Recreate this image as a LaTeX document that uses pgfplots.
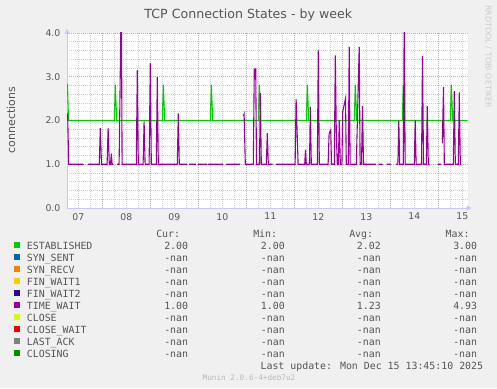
\documentclass[border=0pt]{standalone}
\usepackage{pgfplots}
\pgfplotsset{compat=1.18}
\usepackage{fontspec}
\setmainfont{DejaVu Sans}
\newfontfamily\monofont{DejaVu Sans Mono}
\usetikzlibrary{arrows.meta}
\definecolor{bgcol}{HTML}{F0F0F0}
\definecolor{txtcol}{HTML}{555555}
\definecolor{axiscol}{HTML}{C8C8F8}
\definecolor{mgrid}{HTML}{F0A0A0}
\definecolor{sgrid}{HTML}{D0D0D0}
\definecolor{cEST}{HTML}{00CC00}
\definecolor{cSS}{HTML}{0066B3}
\definecolor{cSR}{HTML}{FF8000}
\definecolor{cFW1}{HTML}{FFCC00}
\definecolor{cFW2}{HTML}{330099}
\definecolor{cTW}{HTML}{990099}
\definecolor{cCL}{HTML}{CCFF00}
\definecolor{cCW}{HTML}{FF0000}
\definecolor{cLA}{HTML}{808080}
\definecolor{cCG}{HTML}{008F00}
\newcommand\legfont{\monofont\fontsize{9.9bp}{12bp}\selectfont}
\begin{document}
\begin{tikzpicture}[x=1bp,y=1bp]
\useasboundingbox (0,0) rectangle (497,388);
\fill[bgcol] (0,0) rectangle (497,388);
\begin{axis}[
  at={(67bp,180bp)}, anchor=south west,
  scale only axis, width=400.5bp, height=175bp,
  xmin=6.35, xmax=206.6, ymin=0, ymax=4,
  axis background/.style={fill=white},
  axis lines=left,
  axis line style={draw=axiscol, line width=0.8bp},
  x axis line style={-{Triangle[length=5bp,width=5bp]}, shorten >=-4bp},
  y axis line style={-{Triangle[length=5bp,width=5bp]}, shorten >=-4bp},
  xtick={12,36,60,84,108,132,156,180,204},
  xticklabels={07,08,09,10,11,12,13,14,15},
  minor xtick={12,18,30,36,42,54,60,66,78,84,90,102,108,114,126,132,138,150,156,162,174,180,186,198,204},
  xminorgrids=true, xmajorgrids=false,
  extra x ticks={24,48,72,96,120,144,168,192},
  extra x tick labels={},
  extra x tick style={xmajorgrids=true},
  ytick={0,1,2,3,4}, yticklabels={0.0,1.0,2.0,3.0,4.0},
  minor ytick={0.2,0.4,0.6,0.8,1.2,1.4,1.6,1.8,2.2,2.4,2.6,2.8,3.2,3.4,3.6,3.8},
  ymajorgrids=true, yminorgrids=true,
  major grid style={draw=mgrid, line width=0.8bp, dash pattern=on 1bp off 1bp},
  minor grid style={draw=sgrid, line width=0.8bp, dash pattern=on 1bp off 1bp},
  major tick length=0pt, minor tick length=0pt,
  tick style={draw=none},
  ticklabel style={font=\fontsize{9.3bp}{11bp}\selectfont, text=txtcol},
  xticklabel style={inner sep=0pt, yshift=-5bp},
  yticklabel style={inner sep=0pt, xshift=-6.5bp},
  unbounded coords=jump,
]
\addplot[color=cEST, line width=1.1bp] coordinates {
(6.35,2.82)(6.6,2.82)(7.1,2)(30,2)(30.5,2.82)(31.2,2)(54,2)(54.5,2.82)(55.2,2)
(78,2)(78.5,2.82)(79.2,2)(102,2)(102.5,2.82)(103.2,2)(126,2)(126.5,2.82)(127.2,2)
(150,2)(150.5,2.82)(151.2,2)(174,2)(174.5,2.82)(175.2,2)(198,2)(198.5,2.82)(199.2,2)(206.4,2)
};
\addplot[color=cTW, line width=1.1bp] coordinates {
(6.35,2.17)(6.7,2.1)(7.2,1)(14.6,1)(15.5,nan)(16.9,1)(22.5,1)(23.0,1.83)(23.6,1)
(26.4,1)(26.9,1.83)(27.5,1)(28.1,1)(28.5,1.24)(28.9,1)(29.4,1)(30,nan)(31.4,1)
(32.4,1)(33.5,4.93)(33.9,1)(41.0,1)(41.5,3.15)(42.0,1)(44.4,1)(44.9,1.98)(45.4,1)
(47.4,1)(48.0,3.31)(48.5,1)(51.0,1)(51.5,2.99)(52.0,1)(61.5,1)(62.0,2.16)(62.5,1)
(66.4,1)(67,nan)(67.4,1)(70.9,1)(71.4,nan)(71.9,1)(76.4,1)(76.6,nan)(76.9,1)
(84.4,1)(85,nan)(85.9,1)(92.9,1)(93.5,nan)(94.5,2.1)(94.9,2.15)(95.5,1)
(99.5,1)(100.0,3.18)(100.7,3.18)(101.1,1)(102.6,1)(103.0,2.63)(103.5,1)
(106.0,1)(106.5,1.71)(107.0,1)(109.2,1)(110,nan)(110.9,1)(120.4,1)(120.9,2.49)(121.9,1)
(125.2,1)(125.6,1.33)(126.0,1)(127.6,1)(128.0,2.31)(128.5,1)(131.5,1)(132.0,3.60)(132.5,1)
(136.9,1)(137.4,1.7)(138.2,1.78)(138.6,1)(140.0,1)(140.5,3.49)(141.0,1.69)(141.5,1)
(142.0,1)(142.5,2.0)(143.0,1)(143.8,1)(144.2,2.2)(145.6,2.5)(146.0,1)
(147.0,1)(147.45,3.68)(147.9,1)(151.0,1)(152.45,3.68)(152.9,1)(153.6,1)(154.1,2.33)(154.6,1)
(160.9,1)(161.5,nan)(162.1,1)(164.1,1)(165,nan)(166.1,1)(168.1,1)(169.5,nan)(170.9,1)
(171.8,1)(172.25,1.99)(172.7,1)(174.5,1)(175.0,4.6)(175.4,1)(180.0,1)(180.45,2.0)(180.9,1)
(183.6,1)(184.1,3.47)(184.6,1)(186.0,1)(186.5,2.33)(187.0,1)(187.6,1)(189,nan)(191.7,1)
(193.3,1)(193.6,nan)(194.0,1.48)(194.6,2.77)(195.0,1)(199.5,1)(200.0,2.67)(200.5,1)
(202.0,1)(202.5,2.64)(203.0,1)(203.3,1)
};
\end{axis}
% title and labels
\node[anchor=base, inner sep=0pt, text=txtcol, font=\fontsize{12.6bp}{15bp}\selectfont] at (248.3,369.7) {TCP Connection States - by week};
\node[rotate=90, inner sep=0pt, text=txtcol, font=\fontsize{11bp}{13bp}\selectfont] at (11,268) {connections};
\node[rotate=-90, anchor=west, inner sep=0pt, text=black!20, font=\fontsize{8bp}{10bp}\selectfont] at (488.3,383) {RRDTOOL / TOBI OETIKER};
% legend header
\begin{scope}[every node/.style={inner sep=0pt, text=txtcol, font=\legfont}]
\node[anchor=base east] at (180.3,151) {Cur:};
\node[anchor=base east] at (277.3,151) {Min:};
\node[anchor=base east] at (373.3,151) {Avg:};
\node[anchor=base east] at (469.7,151) {Max:};
\foreach \name/\col/\cur/\mn/\av/\mx [count=\k from 0] in {
  ESTABLISHED/cEST/2.00/2.00/2.02/3.00,
  SYN\_SENT/cSS/-nan/-nan/-nan/-nan,
  SYN\_RECV/cSR/-nan/-nan/-nan/-nan,
  FIN\_WAIT1/cFW1/-nan/-nan/-nan/-nan,
  FIN\_WAIT2/cFW2/-nan/-nan/-nan/-nan,
  TIME\_WAIT/cTW/1.00/1.00/1.23/4.93,
  CLOSE/cCL/-nan/-nan/-nan/-nan,
  CLOSE\_WAIT/cCW/-nan/-nan/-nan/-nan,
  LAST\_ACK/cLA/-nan/-nan/-nan/-nan,
  CLOSING/cCG/-nan/-nan/-nan/-nan}{
  \pgfmathsetmacro{\yb}{138.7-12*\k}
  \fill[\col] (14,\yb+1) rectangle (20,\yb+7);
  \node[anchor=base west] at (26.7,\yb) {\name};
  \node[anchor=base east] at (188.3,\yb) {\cur};
  \node[anchor=base east] at (285,\yb) {\mn};
  \node[anchor=base east] at (381,\yb) {\av};
  \node[anchor=base east] at (477.3,\yb) {\mx};
}
\node[anchor=base east] at (483.3,19) {Last update: Mon Dec 15 13:45:10 2025};
\end{scope}
\node[anchor=base, inner sep=0pt, text=black!27, font=\monofont\fontsize{7.7bp}{9bp}\selectfont] at (249,7.3) {Munin 2.0.6-4+deb7u2};
\end{tikzpicture}
\end{document}
